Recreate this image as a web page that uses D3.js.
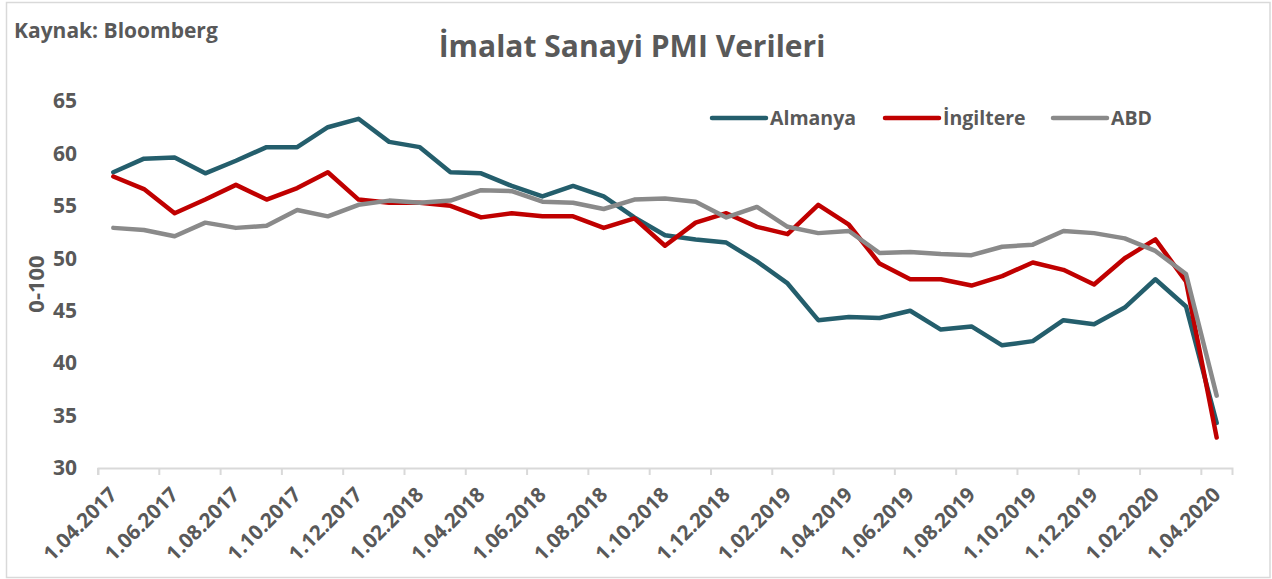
<!DOCTYPE html>
<html>
<head>
<meta charset="utf-8">
<script src="https://cdn.jsdelivr.net/npm/d3@7"></script>
<style>
  body { margin: 0; background: #fff; }
  svg { display: block; font-family: "Open Sans", sans-serif; }
</style>
</head>
<body>
<svg></svg>
<script>
//Set the dimensions of the SVG container
const width = 1272;
const height = 579;

//chart data
const dates = [
  "1.04.2017", "1.05.2017", "1.06.2017", "1.07.2017", "1.08.2017", "1.09.2017",
  "1.10.2017", "1.11.2017", "1.12.2017", "1.01.2018", "1.02.2018", "1.03.2018",
  "1.04.2018", "1.05.2018", "1.06.2018", "1.07.2018", "1.08.2018", "1.09.2018",
  "1.10.2018", "1.11.2018", "1.12.2018", "1.01.2019", "1.02.2019", "1.03.2019",
  "1.04.2019", "1.05.2019", "1.06.2019", "1.07.2019", "1.08.2019", "1.09.2019",
  "1.10.2019", "1.11.2019", "1.12.2019", "1.01.2020", "1.02.2020", "1.03.2020",
  "1.04.2020"
];
const almanya = [
  58.2, 59.5, 59.6, 58.1, 59.3, 60.6, 60.6, 62.5, 63.3, 61.1, 60.6, 58.2,
  58.1, 56.9, 55.9, 56.9, 55.9, 53.9, 52.2, 51.8, 51.5, 49.7, 47.6, 44.1,
  44.4, 44.3, 45.0, 43.2, 43.5, 41.7, 42.1, 44.1, 43.7, 45.3, 48.0, 45.4,
  34.3
];
const ingiltere = [
  57.8, 56.6, 54.3, 55.6, 57.0, 55.6, 56.7, 58.2, 55.6, 55.3, 55.3, 55.0,
  53.9, 54.3, 54.0, 54.0, 52.9, 53.8, 51.2, 53.4, 54.3, 53.0, 52.3, 55.1,
  53.2, 49.5, 48.0, 48.0, 47.4, 48.3, 49.6, 48.9, 47.5, 50.0, 51.8, 47.8,
  32.9
];
const abd = [
  52.9, 52.7, 52.1, 53.4, 52.9, 53.1, 54.6, 54.0, 55.1, 55.5, 55.3, 55.5,
  56.5, 56.4, 55.4, 55.3, 54.7, 55.6, 55.7, 55.4, 53.9, 54.9, 53.0, 52.4,
  52.6, 50.5, 50.6, 50.4, 50.3, 51.1, 51.3, 52.6, 52.4, 51.9, 50.7, 48.5,
  36.9
];
const seriesNames = ["Almanya", "İngiltere", "ABD"];
const seriesColors = ["#245e6c", "#c00000", "#8a8a8a"];
const yTicks = [30, 35, 40, 45, 50, 55, 60, 65];
const tickLabels = dates.filter((d, i) => i % 2 === 0);

const series = [almanya, ingiltere, abd];
const textColor = "#595959";

//Create an SVG element
const svg = d3.select("svg")
  .attr("width", width)
  .attr("height", height);

//outer frame
svg.append("rect")
  .attr("x", 6.5).attr("y", 2.5)
  .attr("width", 1263.5).attr("height", 575)
  .attr("fill", "#fff")
  .attr("stroke", "#d9d9d9")
  .attr("stroke-width", 1.5);

//scales
const x = d3.scaleBand()
  .domain(dates)
  .range([98, 1232])
  .paddingInner(0).paddingOuter(0);
const y = d3.scaleLinear()
  .domain([30, 65])
  .range([468, 101]);

//x axis
const xAxis = d3.axisBottom(x)
  .tickValues(tickLabels)
  .tickSize(7)
  .tickFormat(d => d);
const gx = svg.append("g")
  .attr("transform", "translate(0,468)")
  .call(xAxis);
gx.select(".domain").attr("stroke", "#d9d9d9").attr("stroke-width", 2);
//move ticks to the start of the band like excel does
gx.selectAll(".tick line")
  .attr("x1", -x.bandwidth() / 2).attr("x2", -x.bandwidth() / 2)
  .attr("stroke", "#d9d9d9").attr("stroke-width", 2);
gx.selectAll(".tick text")
  .attr("fill", textColor)
  .attr("font-size", 20.5)
  .attr("font-weight", 700)
  .attr("font-family", "Open Sans, sans-serif")
  .attr("text-anchor", "end")
  .attr("dy", null)
  .attr("y", null)
  .attr("transform", "translate(5,28) rotate(-45)");

//y axis labels, no line
const gy = svg.append("g")
  .attr("transform", "translate(77,0)")
  .call(d3.axisLeft(y).tickValues(yTicks).tickSize(0).tickPadding(0));
gy.select(".domain").remove();
gy.selectAll(".tick text")
  .attr("fill", textColor)
  .attr("font-size", 21)
  .attr("font-weight", 700)
  .attr("font-family", "Open Sans, sans-serif");

//y axis title
svg.append("text")
  .attr("transform", "translate(36,284) rotate(-90)")
  .attr("text-anchor", "middle")
  .attr("dy", "0.35em")
  .attr("fill", textColor)
  .attr("font-size", 22)
  .attr("font-weight", 700)
  .text("0-100");

//lines
const line = d3.line()
  .x((d, i) => x(dates[i]) + x.bandwidth() / 2)
  .y(d => y(d));
svg.selectAll("path.series")
  .data(series)
  .enter().append("path")
  .attr("class", "series")
  .attr("d", line)
  .attr("fill", "none")
  .attr("stroke", (d, i) => seriesColors[i])
  .attr("stroke-width", 4.5)
  .attr("stroke-linejoin", "round")
  .attr("stroke-linecap", "round");

//legend
const legendX = [712, 885, 1053];
const legend = svg.selectAll("g.legend")
  .data(seriesNames)
  .enter().append("g")
  .attr("class", "legend")
  .attr("transform", (d, i) => `translate(${legendX[i]},118)`);
legend.append("line")
  .attr("x1", 0).attr("x2", 54)
  .attr("stroke", (d, i) => seriesColors[i])
  .attr("stroke-width", 4.5)
  .attr("stroke-linecap", "round");
legend.append("text")
  .attr("x", 58)
  .attr("dy", "0.35em")
  .attr("fill", textColor)
  .attr("font-size", 19.5)
  .attr("font-weight", 700)
  .text(d => d);

//title and source
svg.append("text")
  .attr("x", 632).attr("y", 57)
  .attr("text-anchor", "middle")
  .attr("fill", textColor)
  .attr("font-size", 30)
  .attr("font-weight", 700)
  .text("İmalat Sanayi PMI Verileri");
svg.append("text")
  .attr("x", 14).attr("y", 38)
  .attr("fill", textColor)
  .attr("font-size", 21)
  .attr("font-weight", 700)
  .text("Kaynak: Bloomberg");
</script>
</body>
</html>
